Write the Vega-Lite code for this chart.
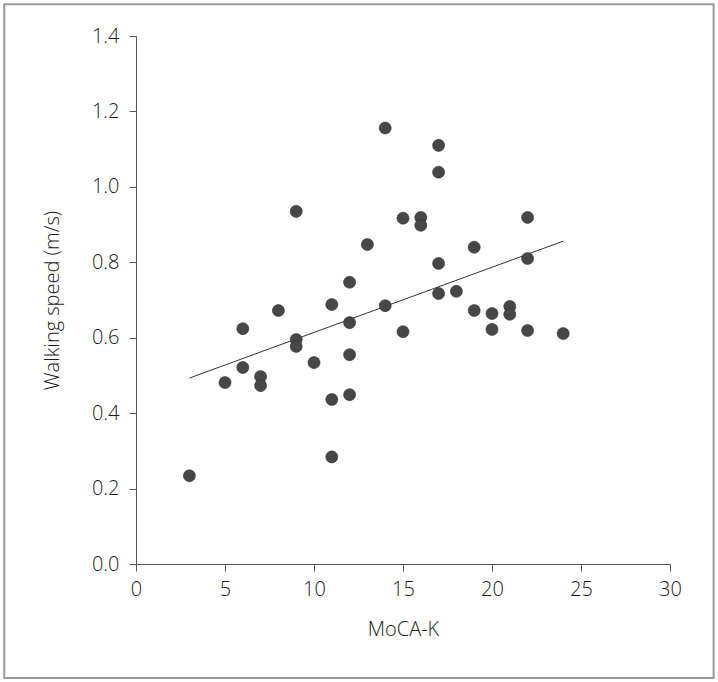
{
  "$schema": "https://vega.github.io/schema/vega-lite/v6.json",
  "autosize": "none",
  "width": 534,
  "height": 528,
  "padding": {"left": 136, "top": 36, "right": 48, "bottom": 118},
  "background": "white",
  "config": {
    "view": {"stroke": null},
    "font": "Open Sans",
    "axis": {
      "grid": false,
      "labelFlush": false,
      "labelOverlap": false,
      "domainColor": "#555",
      "tickColor": "#555",
      "domainWidth": 1,
      "tickWidth": 1,
      "tickSize": 7,
      "labelFont": "Open Sans",
      "labelFontSize": 20,
      "labelFontWeight": 300,
      "labelColor": "#1a1a1a",
      "titleFont": "Open Sans",
      "titleFontSize": 20,
      "titleFontWeight": 300,
      "titleColor": "#1a1a1a"
    }
  },
  "datasets": {
    "points": [
      {"moca": 3, "speed": 0.234},
      {"moca": 5, "speed": 0.481},
      {"moca": 6, "speed": 0.624},
      {"moca": 6, "speed": 0.521},
      {"moca": 7, "speed": 0.497},
      {"moca": 7, "speed": 0.473},
      {"moca": 8, "speed": 0.672},
      {"moca": 9, "speed": 0.935},
      {"moca": 9, "speed": 0.595},
      {"moca": 9, "speed": 0.577},
      {"moca": 10, "speed": 0.534},
      {"moca": 11, "speed": 0.688},
      {"moca": 11, "speed": 0.436},
      {"moca": 11, "speed": 0.284},
      {"moca": 12, "speed": 0.747},
      {"moca": 12, "speed": 0.640},
      {"moca": 12, "speed": 0.555},
      {"moca": 12, "speed": 0.449},
      {"moca": 13, "speed": 0.847},
      {"moca": 14, "speed": 1.156},
      {"moca": 14, "speed": 0.685},
      {"moca": 15, "speed": 0.917},
      {"moca": 15, "speed": 0.616},
      {"moca": 16, "speed": 0.919},
      {"moca": 16, "speed": 0.898},
      {"moca": 17, "speed": 1.110},
      {"moca": 17, "speed": 1.039},
      {"moca": 17, "speed": 0.797},
      {"moca": 17, "speed": 0.717},
      {"moca": 18, "speed": 0.723},
      {"moca": 19, "speed": 0.840},
      {"moca": 19, "speed": 0.672},
      {"moca": 20, "speed": 0.664},
      {"moca": 20, "speed": 0.622},
      {"moca": 21, "speed": 0.683},
      {"moca": 21, "speed": 0.662},
      {"moca": 22, "speed": 0.919},
      {"moca": 22, "speed": 0.810},
      {"moca": 22, "speed": 0.619},
      {"moca": 24, "speed": 0.611}
    ],
    "fit": [
      {"moca": 3, "speed": 0.493},
      {"moca": 24, "speed": 0.856}
    ],
    "frame": [
      {"x0": -7.4, "x1": 32.45, "y0": -0.302, "y1": 1.484}
    ]
  },
  "layer": [
    {
      "data": {"name": "frame"},
      "mark": {"type": "rect", "fill": null, "stroke": "#999", "strokeWidth": 2, "clip": false},
      "encoding": {
        "x": {"field": "x0", "type": "quantitative", "scale": {"domain": [0, 30]}},
        "x2": {"field": "x1"},
        "y": {"field": "y0", "type": "quantitative", "scale": {"domain": [0, 1.4]}},
        "y2": {"field": "y1"}
      }
    },
    {
      "data": {"name": "fit"},
      "mark": {"type": "line", "color": "#333", "strokeWidth": 1},
      "encoding": {
        "x": {"field": "moca", "type": "quantitative"},
        "y": {"field": "speed", "type": "quantitative"}
      }
    },
    {
      "data": {"name": "points"},
      "mark": {"type": "point", "filled": true, "fill": "#474747", "stroke": "#333", "strokeWidth": 0.6, "opacity": 1, "size": 145},
      "encoding": {
        "x": {
          "field": "moca", "type": "quantitative",
          "scale": {"domain": [0, 30], "nice": false, "zero": false},
          "axis": {"title": "MoCA-K", "values": [0, 5, 10, 15, 20, 25, 30], "labelPadding": 8, "titlePadding": 20}
        },
        "y": {
          "field": "speed", "type": "quantitative",
          "scale": {"domain": [0, 1.4], "nice": false, "zero": false},
          "axis": {"title": "Walking speed (m/s)", "values": [0, 0.2, 0.4, 0.6, 0.8, 1.0, 1.2, 1.4], "format": ".1f", "labelPadding": 10, "titlePadding": 29}
        }
      }
    }
  ]
}
